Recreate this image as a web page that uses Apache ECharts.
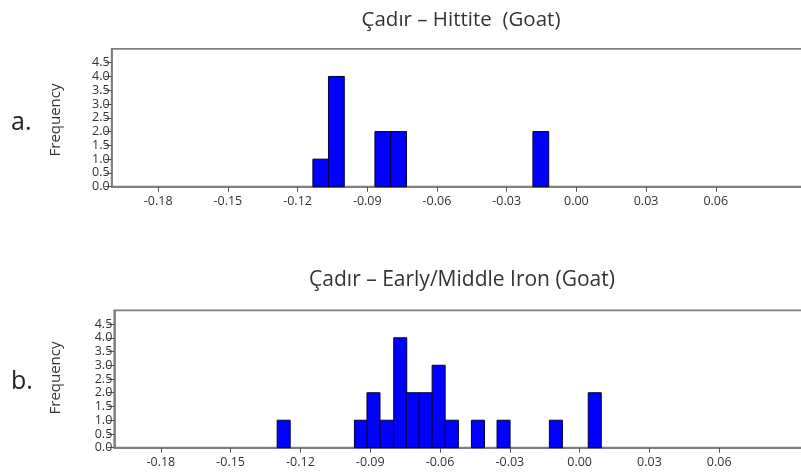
<!DOCTYPE html>
<html><head><meta charset="utf-8">
<script src="https://cdn.jsdelivr.net/npm/echarts@6/dist/echarts.min.js"></script>
<style>html,body{margin:0;padding:0;background:#fff}#c{width:801px;height:475px}</style>
</head><body><div id="c"></div>
<script>
// Panel a: Çadır – Hittite (Goat)
const binCentersA = [-0.1100, -0.1033, -0.0833, -0.0765, -0.0153];
const countsA = [1, 4, 2, 2, 2];
const binWidthA = 0.0068;
// Panel b: Çadır – Early/Middle Iron (Goat)
const binCentersB = [-0.1272, -0.0940, -0.0886, -0.0829, -0.0771, -0.0717, -0.0662, -0.0606, -0.0549, -0.0437, -0.0327, -0.0102, 0.0065];
const countsB = [1, 1, 2, 1, 4, 2, 2, 3, 1, 1, 1, 1, 2];
const binWidthB = 0.0056;
const xTicks = [-0.18, -0.15, -0.12, -0.09, -0.06, -0.03, 0.00, 0.03, 0.06];
const yTicks = [0, 0.5, 1.0, 1.5, 2.0, 2.5, 3.0, 3.5, 4.0, 4.5];
const titles = ['Çadır – Hittite  (Goat)', 'Çadır – Early/Middle Iron (Goat)'];
const panelLabels = ['a.', 'b.'];
const yName = 'Frequency';

const chart = echarts.init(document.getElementById('c'), null, {renderer: 'canvas'});
const axisGrey = '#7f7f7f';
const txt = '#333333';
const font = 'Open Sans';

function xAxis(gi) {
  return {
    type: 'value', gridIndex: gi, min: -0.2, max: 0.1,
    axisLine: {show: true, onZero: false, lineStyle: {color: axisGrey, width: 1.8}},
    axisTick: {show: true, customValues: xTicks, length: 5, lineStyle: {color: '#555'}},
    axisLabel: {show: true, customValues: xTicks, formatter: v => v.toFixed(2), color: txt, fontFamily: font, fontSize: 12.5, margin: 8},
    splitLine: {show: false}
  };
}
function yAxis(gi) {
  return {
    type: 'value', gridIndex: gi, min: 0, max: 5,
    axisLine: {show: true, onZero: false, lineStyle: {color: axisGrey, width: 1.8}},
    axisTick: {show: true, customValues: yTicks, length: 7, lineStyle: {color: '#555'}},
    axisLabel: {show: true, customValues: yTicks, formatter: v => v.toFixed(1), color: txt, fontFamily: font, fontSize: 12.5, margin: 2, lineHeight: 12},
    splitLine: {show: false}
  };
}
function hist(centers, counts, w, gi) {
  return {
    type: 'custom', xAxisIndex: gi, yAxisIndex: gi,
    data: centers.map((c, i) => [c, counts[i]]),
    encode: {x: 0, y: 1},
    renderItem: function (params, api) {
      const c = api.value(0), h = api.value(1);
      const p0 = api.coord([c - w / 2, h]);
      const p1 = api.coord([c + w / 2, 0]);
      return {type: 'rect', shape: {x: p0[0], y: p0[1], width: p1[0] - p0[0], height: p1[1] - p0[1]},
        style: {fill: '#0000ff', stroke: '#00003a', lineWidth: 1}};
    }
  };
}

chart.setOption({
  animation: false,
  backgroundColor: '#fff',
  grid: [
    {left: 111.7, top: 48.9, height: 137.8, width: 697, outerBoundsMode: 'none', containLabel: false, show: true, borderColor: axisGrey, borderWidth: 1.8, backgroundColor: 'transparent'},
    {left: 114.3, top: 310.3, height: 137.4, width: 698, outerBoundsMode: 'none', containLabel: false, show: true, borderColor: axisGrey, borderWidth: 1.8, backgroundColor: 'transparent'}
  ],
  xAxis: [xAxis(0), xAxis(1)],
  yAxis: [yAxis(0), yAxis(1)],
  series: [hist(binCentersA, countsA, binWidthA, 0), hist(binCentersB, countsB, binWidthB, 1)],
  graphic: [
    {type: 'text', style: {text: titles[0], x: 461, y: 20, align: 'center', verticalAlign: 'middle', fill: txt, font: '20.5px "Open Sans"'}},
    {type: 'text', style: {text: titles[1], x: 462, y: 280, align: 'center', verticalAlign: 'middle', fill: txt, font: '21px "Open Sans"'}},
    {type: 'text', style: {text: panelLabels[0], x: 11, y: 123, verticalAlign: 'middle', fill: '#222', font: '25px "Open Sans"'}},
    {type: 'text', style: {text: panelLabels[1], x: 11, y: 382, verticalAlign: 'middle', fill: '#222', font: '25px "Open Sans"'}},
    {type: 'text', x: 56, y: 120, rotation: Math.PI / 2, style: {text: yName, x: 0, y: 0, align: 'center', verticalAlign: 'middle', fill: txt, font: '15px "Open Sans"'}},
    {type: 'text', x: 56, y: 378, rotation: Math.PI / 2, style: {text: yName, x: 0, y: 0, align: 'center', verticalAlign: 'middle', fill: txt, font: '15px "Open Sans"'}}
  ]
});
</script></body></html>
